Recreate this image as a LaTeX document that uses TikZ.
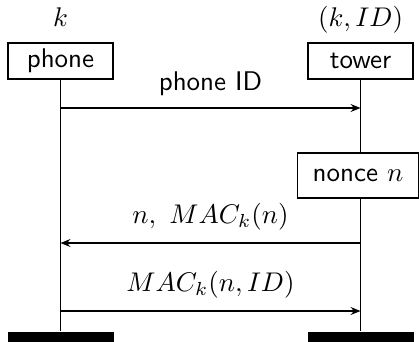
\documentclass[tikz,border=0pt]{standalone}
\usetikzlibrary{arrows.meta}
% text is set at 10pt and enlarged, so the 10pt designs of the fonts are used
\newcommand{\bigtext}[1]{\scalebox{2.7}{#1}}
\begin{document}
\begin{tikzpicture}[x=1pt, y=-1pt,
    every node/.style={font=\sffamily},
    every path/.style={line width=1.1pt},
    inst/.style={draw, minimum width=105pt, minimum height=36pt, inner sep=0pt},
    action/.style={draw, fill=white, minimum width=121pt, minimum height=45pt, inner sep=0pt},
    endbar/.style={fill=black, minimum width=106pt, minimum height=10pt, inner sep=0pt, anchor=north},
    msg/.style={-{Stealth[length=10pt, width=8pt, inset=3.5pt]}},
    lbl/.style={anchor=south, inner sep=0pt, yshift=12pt}]
  \useasboundingbox (0,0) rectangle (419,341);

  % instance headers with their keys
  \node[anchor=base, inner sep=0pt] (kphone) at (60.5,26) {\bigtext{$k$}};
  \node[anchor=base, inner sep=0pt] (ktower) at (360.5,26) {\bigtext{$(k, ID)$}};
  \node[inst] (phone) at (60.5,61) {\bigtext{phone}};
  \node[inst] (tower) at (360.5,61) {\bigtext{tower}};

  % lifeline end points and message levels
  \coordinate (pend) at (60.5,331);
  \coordinate (tend) at (360.5,331);
  \coordinate (p1) at (60.5,108);
  \coordinate (t1) at (360.5,108);
  \coordinate (p2) at (60.5,243);
  \coordinate (t2) at (360.5,243);
  \coordinate (p3) at (60.5,311);
  \coordinate (t3) at (360.5,311);

  % lifelines
  \draw (phone) -- (pend);
  \draw (tower) -- (tend);

  % local action on the tower, drawn over its lifeline
  \node[action] (nonce) at (358,175.5) {\bigtext{nonce $n$}};

  % instance ends
  \node[endbar] (pbar) at (pend) {};
  \node[endbar] (tbar) at (tend) {};

  % messages
  \draw[msg] (p1) -- node[lbl] (m1) {\bigtext{phone ID}} (t1);
  \draw[msg] (t2) -- node[lbl] (m2) {\bigtext{$n,\ MAC_k(n)$}} (p2);
  \draw[msg] (p3) -- node[lbl] (m3) {\bigtext{$MAC_k(n, ID)$}} (t3);
\end{tikzpicture}
\end{document}
